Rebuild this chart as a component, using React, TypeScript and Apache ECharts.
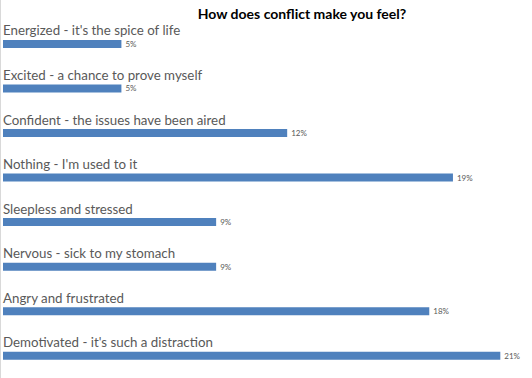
import React, { useEffect, useRef } from "react";
import * as echarts from "echarts";

const categories = [
  "Energized - it's the spice of life",
  "Excited - a chance to prove myself",
  "Confident - the issues have been aired",
  "Nothing - I'm used to it",
  "Sleepless and stressed",
  "Nervous - sick to my stomach",
  "Angry and frustrated",
  "Demotivated - it's such a distraction",
];
const values = [5, 5, 12, 19, 9, 9, 18, 21];
const titleText = "How does conflict make you feel?";

export default function App() {
  const ref = useRef<HTMLDivElement>(null);
  useEffect(() => {
    document.body.style.margin = "0";
    const chart = echarts.init(ref.current!, undefined, { renderer: "svg" });
    chart.setOption({
      animation: false,
      title: {
        text: titleText,
        left: 297,
        top: 1,
        textAlign: "center",
        textStyle: { fontFamily: "Lato", fontSize: 14, fontWeight: "bold", color: "#000" },
      },
      graphic: [
        {
          type: "line",
          shape: { x1: 0.5, y1: 0, x2: 0.5, y2: 378 },
          style: { stroke: "#d9d9d9", lineWidth: 1 },
        },
      ],
      grid: { left: 1, top: 21.65, width: 523, height: 357.6 },
      xAxis: { type: "value", min: 0, max: 22, show: false },
      yAxis: {
        type: "category",
        data: categories,
        inverse: true,
        axisLine: { show: false },
        axisTick: { show: false },
        splitLine: { show: false },
        axisLabel: {
          inside: true,
          margin: 0,
          align: "left",
          verticalAlign: "bottom",
          padding: [0, 0, 7, 0],
          fontFamily: "Lato",
          fontSize: 13.3,
          color: "#595959",
        },
      },
      series: [
        {
          type: "bar",
          data: values,
          barWidth: 8,
          itemStyle: { color: "#4f81bd" },
          label: {
            show: true,
            position: "right",
            distance: 4,
            formatter: "{c}%",
            fontFamily: "Lato",
            fontSize: 8,
            color: "#595959",
          },
        },
      ],
    });
    return () => chart.dispose();
  }, []);
  return <div ref={ref} style={{ width: 532, height: 378, position: "absolute", left: 0, top: 0 }} />;
}
